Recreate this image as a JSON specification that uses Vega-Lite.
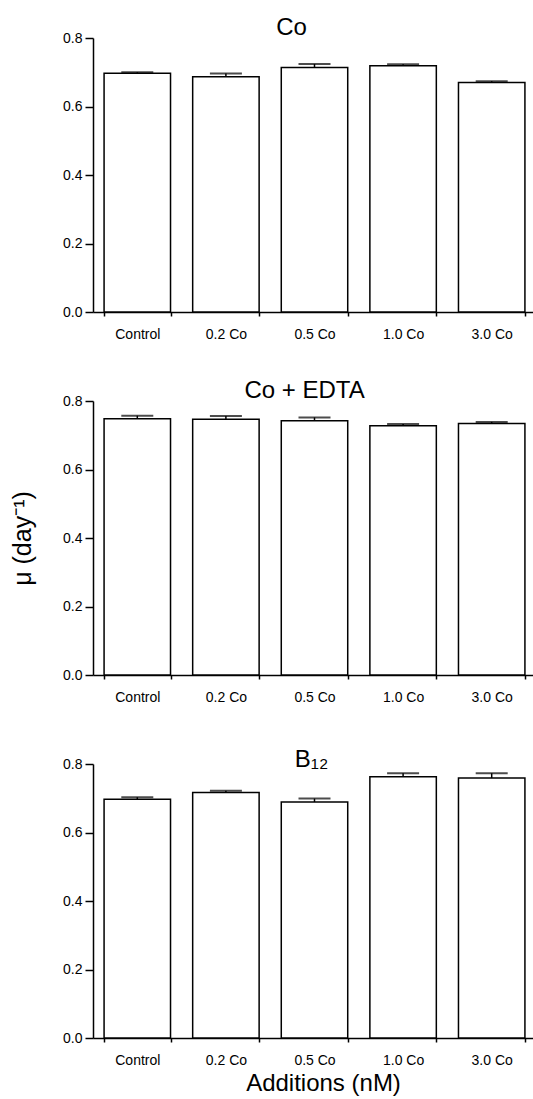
{
  "$schema": "https://vega.github.io/schema/vega-lite/v6.json",
  "padding": {"left": 10, "top": 16, "right": 0, "bottom": 2},
  "background": "white",
  "config": {
    "font": "Liberation Sans",
    "view": {"stroke": null},
    "axis": {"domainColor": "black", "domainWidth": 1.5, "tickColor": "black", "tickWidth": 1.5, "labelColor": "black", "titleColor": "black", "grid": false},
    "title": {"color": "black", "fontWeight": "normal", "fontSize": 24, "font": "Liberation Sans", "offset": -9}
  },
  "datasets": {
    "growth": [
      {"panel": "Co", "treatment": "Control", "mu": 0.697, "hi": 0.700},
      {"panel": "Co", "treatment": "0.2 Co", "mu": 0.687, "hi": 0.696},
      {"panel": "Co", "treatment": "0.5 Co", "mu": 0.714, "hi": 0.724},
      {"panel": "Co", "treatment": "1.0 Co", "mu": 0.719, "hi": 0.723},
      {"panel": "Co", "treatment": "3.0 Co", "mu": 0.670, "hi": 0.674},
      {"panel": "Co + EDTA", "treatment": "Control", "mu": 0.748, "hi": 0.757},
      {"panel": "Co + EDTA", "treatment": "0.2 Co", "mu": 0.747, "hi": 0.756},
      {"panel": "Co + EDTA", "treatment": "0.5 Co", "mu": 0.742, "hi": 0.752},
      {"panel": "Co + EDTA", "treatment": "1.0 Co", "mu": 0.728, "hi": 0.733},
      {"panel": "Co + EDTA", "treatment": "3.0 Co", "mu": 0.734, "hi": 0.739},
      {"panel": "B12", "treatment": "Control", "mu": 0.697, "hi": 0.703},
      {"panel": "B12", "treatment": "0.2 Co", "mu": 0.717, "hi": 0.722},
      {"panel": "B12", "treatment": "0.5 Co", "mu": 0.689, "hi": 0.699},
      {"panel": "B12", "treatment": "1.0 Co", "mu": 0.763, "hi": 0.773},
      {"panel": "B12", "treatment": "3.0 Co", "mu": 0.759, "hi": 0.773}
    ]
  },
  "data": {"name": "growth"},
  "spacing": 44,
  "vconcat": [
    {
      "spacing": 38,
      "vconcat": [
        {
          "title": {"text": "Co", "dx": -23},
          "width": 443, "height": 274,
          "transform": [{"filter": "datum.panel == 'Co'"}],
          "encoding": {
            "x": {"field": "treatment", "type": "nominal", "sort": ["Control", "0.2 Co", "0.5 Co", "1.0 Co", "3.0 Co"],
              "scale": {"paddingInner": 0.25, "paddingOuter": 0.125},
              "axis": {"title": null, "labelAngle": 0, "tickBand": "extent", "tickSize": 4, "labelFontSize": 14, "labelPadding": 11}}
          },
          "layer": [
            {"mark": {"type": "bar", "fill": "white", "stroke": "black", "strokeWidth": 1.5},
              "encoding": {"y": {"field": "mu", "type": "quantitative", "scale": {"domain": [0, 0.8], "nice": false},
                "axis": {"title": null, "values": [0, 0.1, 0.2, 0.3, 0.4, 0.5, 0.6, 0.7, 0.8], "labelExpr": "round(datum.value*10) % 2 == 0 ? format(datum.value, '.1f') : ''", "tickSize": {"condition": {"test": "round(datum.value*10) % 2 == 0", "value": 8}, "value": 4}, "labelFontSize": 14, "labelPadding": 3}}}},
            {"mark": {"type": "rule", "color": "black", "strokeWidth": 1.5},
              "encoding": {"y": {"field": "mu", "type": "quantitative"}, "y2": {"field": "hi"}}},
            {"mark": {"type": "tick", "orient": "horizontal", "size": 32, "thickness": 2, "color": "black"},
              "encoding": {"y": {"field": "hi", "type": "quantitative"}}}
          ]
        },
        {
          "title": {"text": "Co + EDTA", "dx": -10},
          "width": 443, "height": 274,
          "transform": [{"filter": "datum.panel == 'Co + EDTA'"}],
          "encoding": {
            "x": {"field": "treatment", "type": "nominal", "sort": ["Control", "0.2 Co", "0.5 Co", "1.0 Co", "3.0 Co"],
              "scale": {"paddingInner": 0.25, "paddingOuter": 0.125},
              "axis": {"title": null, "labelAngle": 0, "tickBand": "extent", "tickSize": 4, "labelFontSize": 14, "labelPadding": 11}}
          },
          "layer": [
            {"mark": {"type": "bar", "fill": "white", "stroke": "black", "strokeWidth": 1.5},
              "encoding": {"y": {"field": "mu", "type": "quantitative", "scale": {"domain": [0, 0.8], "nice": false},
                "axis": {"title": "μ (day⁻¹)", "titleFontSize": 25, "titleFontWeight": "normal", "titlePadding": 27, "values": [0, 0.1, 0.2, 0.3, 0.4, 0.5, 0.6, 0.7, 0.8], "labelExpr": "round(datum.value*10) % 2 == 0 ? format(datum.value, '.1f') : ''", "tickSize": {"condition": {"test": "round(datum.value*10) % 2 == 0", "value": 8}, "value": 4}, "labelFontSize": 14, "labelPadding": 3}}}},
            {"mark": {"type": "rule", "color": "black", "strokeWidth": 1.5},
              "encoding": {"y": {"field": "mu", "type": "quantitative"}, "y2": {"field": "hi"}}},
            {"mark": {"type": "tick", "orient": "horizontal", "size": 32, "thickness": 2, "color": "black"},
              "encoding": {"y": {"field": "hi", "type": "quantitative"}}}
          ]
        }
      ]
    },
    {
      "title": {"text": "B₁₂", "offset": -15, "dx": -3},
      "width": 443, "height": 274,
      "transform": [{"filter": "datum.panel == 'B12'"}],
      "encoding": {
        "x": {"field": "treatment", "type": "nominal", "sort": ["Control", "0.2 Co", "0.5 Co", "1.0 Co", "3.0 Co"],
          "scale": {"paddingInner": 0.25, "paddingOuter": 0.125},
          "axis": {"title": "Additions (nM)", "titleFontSize": 24, "titleFontWeight": "normal", "titlePadding": 4, "titleX": 230, "labelAngle": 0, "tickBand": "extent", "tickSize": 4, "labelFontSize": 14, "labelPadding": 11}}
      },
      "layer": [
        {"mark": {"type": "bar", "fill": "white", "stroke": "black", "strokeWidth": 1.5},
          "encoding": {"y": {"field": "mu", "type": "quantitative", "scale": {"domain": [0, 0.8], "nice": false},
            "axis": {"title": null, "values": [0, 0.1, 0.2, 0.3, 0.4, 0.5, 0.6, 0.7, 0.8], "labelExpr": "round(datum.value*10) % 2 == 0 ? format(datum.value, '.1f') : ''", "tickSize": {"condition": {"test": "round(datum.value*10) % 2 == 0", "value": 8}, "value": 4}, "labelFontSize": 14, "labelPadding": 3}}}},
        {"mark": {"type": "rule", "color": "black", "strokeWidth": 1.5},
          "encoding": {"y": {"field": "mu", "type": "quantitative"}, "y2": {"field": "hi"}}},
        {"mark": {"type": "tick", "orient": "horizontal", "size": 32, "thickness": 2, "color": "black"},
          "encoding": {"y": {"field": "hi", "type": "quantitative"}}}
      ]
    }
  ]
}
